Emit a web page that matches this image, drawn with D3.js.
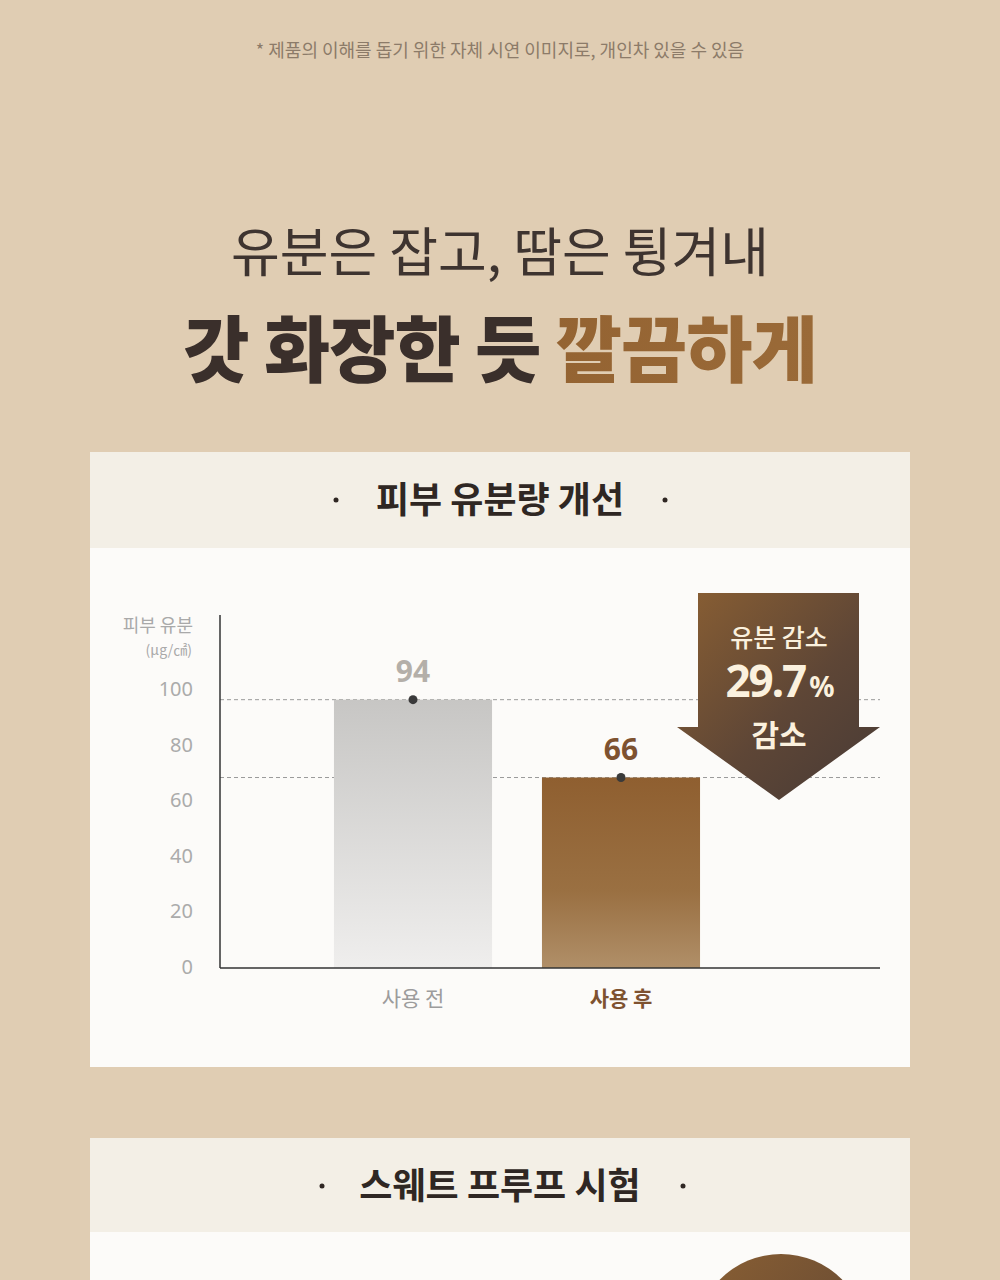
<!DOCTYPE html>
<meta charset="utf-8">
<style>
body {
  margin: 0;
  background: #e0cdb3;
  font-family: "Noto Sans CJK KR", "Noto Sans", sans-serif;
}
svg { display: block; }
</style>
<body>
<svg width="1000" height="1280"></svg>
<script src="https://cdn.jsdelivr.net/npm/d3@7"></script>
<script>
// chart values
var categories = ["사용 전", "사용 후"];
var oilValues = [94, 66];
var yTicks = [0, 20, 40, 60, 80, 100];
var reductionText = "29.7";

var svg = d3.select("svg");
var defs = svg.append("defs");

function grad(id, x2, y2, stops) {
  var g = defs.append("linearGradient").attr("id", id)
    .attr("x1", 0).attr("y1", 0).attr("x2", x2).attr("y2", y2);
  stops.forEach(function(s) {
    g.append("stop").attr("offset", s[0]).attr("stop-color", s[1]);
  });
}
grad("gBefore", 0, 1, [[0, "#c7c6c4"], [1, "#efeeed"]]);
grad("gAfter", 0, 1, [[0, "#8f5f30"], [0.6, "#9a7042"], [1, "#b08f68"]]);
grad("gArrow", 1, 1, [[0, "#8a5f33"], [0.55, "#5e4636"], [1, "#473a36"]]);
grad("gTitle", 1, 0, [[0, "#8c5a2a"], [1, "#9a6a38"]]);
grad("gCircle", 1, 1, [[0, "#8a5f33"], [1, "#5a4334"]]);

// top note
svg.append("text")
  .attr("x", 500).attr("y", 57)
  .attr("text-anchor", "middle")
  .style("font-size", "18px")
  .attr("fill", "#8c7b69")
  .text("* 제품의 이해를 돕기 위한 자체 시연 이미지로, 개인차 있을 수 있음");

// headline
svg.append("text")
  .attr("x", 500).attr("y", 272)
  .attr("text-anchor", "middle")
  .style("font-size", "53px")
  .attr("fill", "#3e3430")
  .text("유분은 잡고, 땀은 튕겨내");

var t2 = svg.append("text")
  .attr("x", 500).attr("y", 376)
  .attr("text-anchor", "middle")
  .style("font-size", "72px")
  .style("font-weight", 900)
  .style("letter-spacing", "-1px")
  .attr("fill", "#3a2f2b");
t2.append("tspan").text("갓 화장한 듯 ");
t2.append("tspan").attr("fill", "url(#gTitle)").text("깔끔하게");

// card 1
svg.append("rect").attr("x", 90).attr("y", 452).attr("width", 820).attr("height", 615).attr("fill", "#fcfbf9");
svg.append("rect").attr("x", 90).attr("y", 452).attr("width", 820).attr("height", 96).attr("fill", "#f3efe6");

function cardTitle(y, label, lx, rx) {
  svg.append("text").attr("x", 500).attr("y", y)
    .attr("text-anchor", "middle")
    .style("font-size", "36px").style("font-weight", "bold")
    .attr("fill", "#2f2723").text(label);
  [lx, rx].forEach(function(cx) {
    svg.append("circle").attr("cx", cx).attr("cy", y - 13).attr("r", 2.5).attr("fill", "#2f2723");
  });
}
cardTitle(513, "피부 유분량 개선", 336, 665);

// chart
var x = d3.scaleBand().domain(categories).range([309, 725]).paddingInner(0.24).paddingOuter(0.12);
var y = d3.scaleLinear().domain([0, 100]).range([961, 683]);
var left = 220, right = 880, base = 968;

var g = svg.append("g");

// dashed guides at bar tops
g.selectAll(".guide").data(oilValues).enter().append("line")
  .attr("x1", left).attr("x2", right)
  .attr("y1", function(d) { return y(d); })
  .attr("y2", function(d) { return y(d); })
  .attr("stroke", "#9a9a9a").attr("stroke-width", 1)
  .attr("stroke-dasharray", "4,3");

// y tick labels
var yAxis = g.append("g")
  .attr("transform", "translate(" + left + ",6)")
  .call(d3.axisLeft(y).tickValues(yTicks).tickSize(0).tickPadding(27));
yAxis.select(".domain").remove();
yAxis.selectAll("text")
  .style("font-size", "20px")
  .style("font-family", "'Noto Sans', 'Noto Sans CJK KR', sans-serif")
  .attr("fill", "#ababab");

g.append("text").attr("x", 193).attr("y", 632).attr("text-anchor", "end")
  .style("font-size", "18px").attr("fill", "#a9a9a9").text("피부 유분");
g.append("text").attr("x", 192).attr("y", 655).attr("text-anchor", "end")
  .style("font-size", "14px").attr("fill", "#a9a9a9").text("(μg/㎠)");

// bars
var colors = ["url(#gBefore)", "url(#gAfter)"];
var labelColors = ["#b4afa9", "#7e5230"];
g.selectAll(".bar").data(oilValues).enter().append("rect")
  .attr("x", function(d, i) { return x(categories[i]); })
  .attr("y", function(d) { return y(d); })
  .attr("width", x.bandwidth())
  .attr("height", function(d) { return base - y(d); })
  .attr("fill", function(d, i) { return colors[i]; });

// axes lines
g.append("line").attr("x1", left).attr("x2", left).attr("y1", 615).attr("y2", base)
  .attr("stroke", "#333").attr("stroke-width", 1.5);
g.append("line").attr("x1", left).attr("x2", right).attr("y1", base).attr("y2", base)
  .attr("stroke", "#333").attr("stroke-width", 1.5);

// dots and values
g.selectAll(".dot").data(oilValues).enter().append("circle")
  .attr("cx", function(d, i) { return x(categories[i]) + x.bandwidth() / 2; })
  .attr("cy", function(d) { return y(d); })
  .attr("r", 4.5).attr("fill", "#3a3a3a");

g.selectAll(".val").data(oilValues).enter().append("text")
  .attr("x", function(d, i) { return x(categories[i]) + x.bandwidth() / 2; })
  .attr("y", function(d) { return y(d) - 18; })
  .attr("text-anchor", "middle")
  .style("font-size", "30px").style("font-weight", "bold")
  .style("font-family", "'Noto Sans', sans-serif")
  .attr("fill", function(d, i) { return labelColors[i]; })
  .text(function(d) { return d; });

// x labels
g.selectAll(".xl").data(categories).enter().append("text")
  .attr("x", function(d) { return x(d) + x.bandwidth() / 2; })
  .attr("y", 1006)
  .attr("text-anchor", "middle")
  .style("font-size", "21px")
  .style("font-weight", function(d, i) { return i ? "bold" : "normal"; })
  .attr("fill", function(d, i) { return i ? "#7e5230" : "#9c9c9c"; })
  .text(function(d) { return d; });

// reduction arrow
var ax = 779;
svg.append("path")
  .attr("d", "M" + (ax - 81) + ",593 L" + (ax + 80) + ",593 L" + (ax + 80) + ",727 L" + (ax + 101) + ",727 L" + ax + ",800 L" + (ax - 102) + ",727 L" + (ax - 81) + ",727 Z")
  .attr("fill", "url(#gArrow)");
svg.append("text").attr("x", ax).attr("y", 647).attr("text-anchor", "middle")
  .style("font-size", "25px").style("font-weight", 500).attr("fill", "#fbf1de").text("유분 감소");
var pct = svg.append("text").attr("x", ax).attr("y", 697).attr("text-anchor", "middle")
  .style("font-family", "'Noto Sans', sans-serif")
  .style("font-weight", "bold").attr("fill", "#fbf1de")
  .style("letter-spacing", "-2px");
pct.append("tspan").style("font-size", "44px").text(reductionText);
pct.append("tspan").style("font-size", "28px").attr("dx", 4).text("%");
svg.append("text").attr("x", ax).attr("y", 746).attr("text-anchor", "middle")
  .style("font-size", "30px").style("font-weight", "bold").attr("fill", "#fbf1de").text("감소");

// card 2
svg.append("rect").attr("x", 90).attr("y", 1138).attr("width", 820).attr("height", 150).attr("fill", "#fcfbf9");
svg.append("circle").attr("cx", 781).attr("cy", 1340).attr("r", 86).attr("fill", "url(#gCircle)");
svg.append("rect").attr("x", 90).attr("y", 1138).attr("width", 820).attr("height", 94).attr("fill", "#f3efe6");
cardTitle(1199, "스웨트 프루프 시험", 322, 683);
</script>
</body>
